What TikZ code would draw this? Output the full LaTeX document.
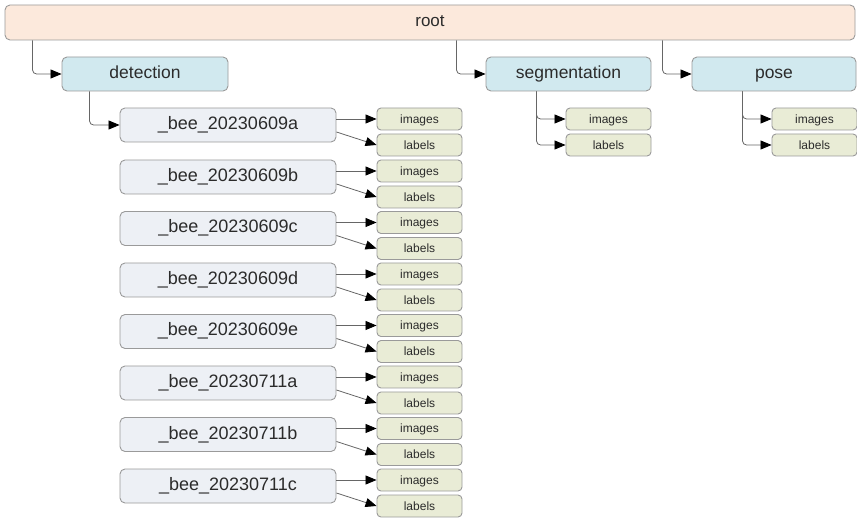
\documentclass[tikz,border=0pt]{standalone}
\usepackage{fontspec}
\setmainfont{Liberation Sans}
\usetikzlibrary{arrows.meta,calc}
\definecolor{rootfill}{HTML}{FCE9DC}
\definecolor{catfill}{HTML}{D1E9EF}
\definecolor{beefill}{HTML}{EDF0F5}
\definecolor{leaffill}{HTML}{E9ECD6}
\definecolor{edgegray}{HTML}{9A9A9A}
\definecolor{txt}{HTML}{2B2B2B}
\tikzset{
  box/.style={draw=edgegray, line width=0.9pt, rounded corners=5pt, inner sep=0pt, text=txt, text height=1.0em, text depth=0.1em},
  rootbox/.style={box, fill=rootfill, minimum width=850pt, minimum height=35pt, font=\fontsize{17}{20}\selectfont},
  catbox/.style={box, fill=catfill, minimum height=34pt, font=\fontsize{17.5}{20}\selectfont},
  beebox/.style={box, fill=beefill, minimum width=216pt, minimum height=34pt, font=\fontsize{18}{20}\selectfont},
  leafbox/.style={box, fill=leaffill, minimum width=85pt, minimum height=22pt, rounded corners=4pt, font=\fontsize{12}{13}\selectfont},
  tip/.style={-{Triangle[length=11pt,width=9pt,color=black]}},
  conn/.style={draw=black!60, line width=0.8pt, rounded corners=4pt, tip},
  sconn/.style={draw=black!60, line width=0.8pt, tip},
}
\begin{document}
\begin{tikzpicture}[x=1pt,y=-1pt]
\useasboundingbox (0,0) rectangle (857,518);
\node[rootbox] (root) at (430,22.5) {root};
\node[catbox, minimum width=166pt] (det) at (145,74) {detection};
\node[catbox, minimum width=165pt] (seg) at (568.5,74) {segmentation};
\node[catbox, minimum width=164pt] (pose) at (774,74) {pose};
\draw[conn] ([xshift=-29pt]det.west |- root.south) |- (det.west);
\draw[conn] ([xshift=-29pt]seg.west |- root.south) |- (seg.west);
\draw[conn] ([xshift=-29pt]pose.west |- root.south) |- (pose.west);
% segmentation / pose children
\node[leafbox] (segimg) at (608.5,119) {images};
\node[leafbox] (seglab) at (608.5,145) {labels};
\node[leafbox] (poseimg) at (814.5,119) {images};
\node[leafbox] (poselab) at (814.5,145) {labels};
\draw[conn] ([xshift=-29pt]segimg.west |- seg.south) |- (segimg.west);
\draw[conn] ([xshift=-29pt]seglab.west |- seg.south) |- (seglab.west);
\draw[conn] ([xshift=-29pt]poseimg.west |- pose.south) |- (poseimg.west);
\draw[conn] ([xshift=-29pt]poselab.west |- pose.south) |- (poselab.west);
% bee folders
\foreach \i/\suf/\cy in {1/20230609a/125, 2/20230609b/177, 3/20230609c/228.5, 4/20230609d/280, 5/20230609e/331.5, 6/20230711a/383, 7/20230711b/434.5, 8/20230711c/486}{
  \node[beebox] (bee\i) at (228,\cy) {\_bee\_\suf};
  \node[leafbox] (img\i) at (419.5,\cy-6) {images};
  \node[leafbox] (lab\i) at (419.5,\cy+20) {labels};
  \draw[sconn] (bee\i.east |- img\i.west) -- (img\i.west);
  \draw[sconn] ([yshift=-7pt]bee\i.east) -- (lab\i.west);
}
\draw[conn] ([xshift=-30pt]bee1.west |- det.south) |- (bee1.west);
\end{tikzpicture}
\end{document}
